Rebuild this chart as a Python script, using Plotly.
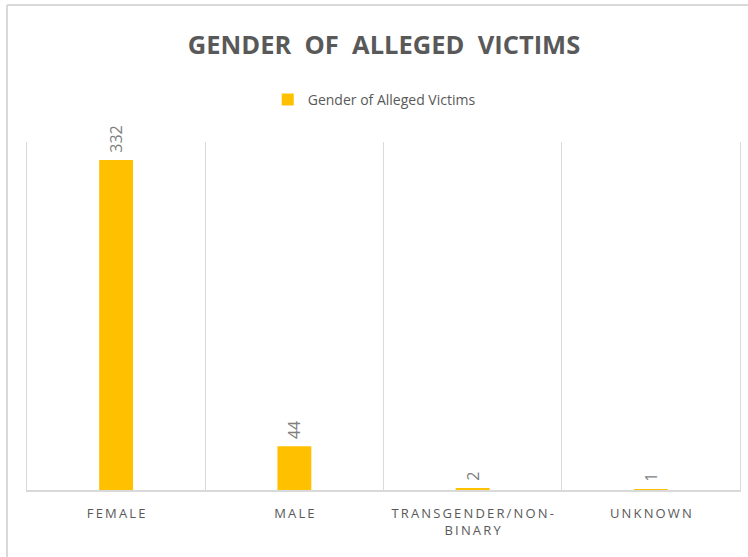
import plotly.graph_objects as go

categories = ["FEMALE", "MALE", "TRANSGENDER/NON-<br>BINARY", "UNKNOWN"]
values = [332, 44, 2, 1]
series_name = "Gender of Alleged Victims"
title_text = "GENDER  OF  ALLEGED  VICTIMS"

FONT = "Open Sans, sans-serif"

def spaced(s):
    # mimic letter spacing of the original axis labels
    parts = s.split("<br>")
    return "<br>".join("\u2009".join(list(p)) for p in parts)

tick_labels = [spaced(c) for c in categories]

fig = go.Figure()
fig.add_trace(go.Bar(
    x=categories,
    y=values,
    name=series_name,
    marker=dict(color="#FFC000", line=dict(width=0)),
    width=0.19,
    text=[" " + str(v) for v in values],
    textposition="outside",
    textangle=-90,
    textfont=dict(family=FONT, size=16, color="#7f7f7f"),
    cliponaxis=False,
    showlegend=True,
))

fig.update_layout(
    width=748, height=557,
    margin=dict(l=27, r=8, t=142, b=67),
    paper_bgcolor="white",
    plot_bgcolor="white",
    title=dict(
        text="<b>" + title_text + "</b>",
        x=384 / 748, xanchor="center",
        y=1 - 45 / 557, yanchor="middle", yref="container",
        font=dict(family=FONT, size=25.5, color="#595959"),
    ),
    legend=dict(
        orientation="h",
        x=0.487, xanchor="center",
        y=1 + 42 / 348, yanchor="middle",
        font=dict(family=FONT, size=14, color="#595959"),
        itemwidth=30,
    ),
    xaxis=dict(
        type="category",
        tickmode="array",
        tickvals=categories,
        ticktext=tick_labels,
        tickson="boundaries",
        tickangle=0,
        automargin=False,
        showgrid=True,
        gridcolor="#d9d9d9",
        gridwidth=1,
        ticks="",
        showline=True,
        linecolor="#d9d9d9",
        linewidth=2,
        ticklabelstandoff=10,
        tickfont=dict(family=FONT, size=13, color="#595959"),
        range=[-0.5, 3.5],
    ),
    yaxis=dict(
        range=[0, 350],
        showgrid=False,
        showticklabels=False,
        zeroline=False,
        showline=True,
        linecolor="#d9d9d9",
        linewidth=1,
        mirror=True,
        automargin=False,
    ),
    shapes=[
        dict(type="line", xref="paper", yref="paper",
             x0=-20 / 713, x1=-20 / 713, y0=1 + 137 / 348, y1=-0.3,
             line=dict(color="#d9d9d9", width=2)),
        dict(type="line", xref="paper", yref="paper",
             x0=-20 / 713, x1=1.05, y0=1 + 137 / 348, y1=1 + 137 / 348,
             line=dict(color="#d9d9d9", width=2)),
    ],
)

fig.write_html("out.html", config={"displayModeBar": False},
               post_script="document.body.style.margin='0';")
